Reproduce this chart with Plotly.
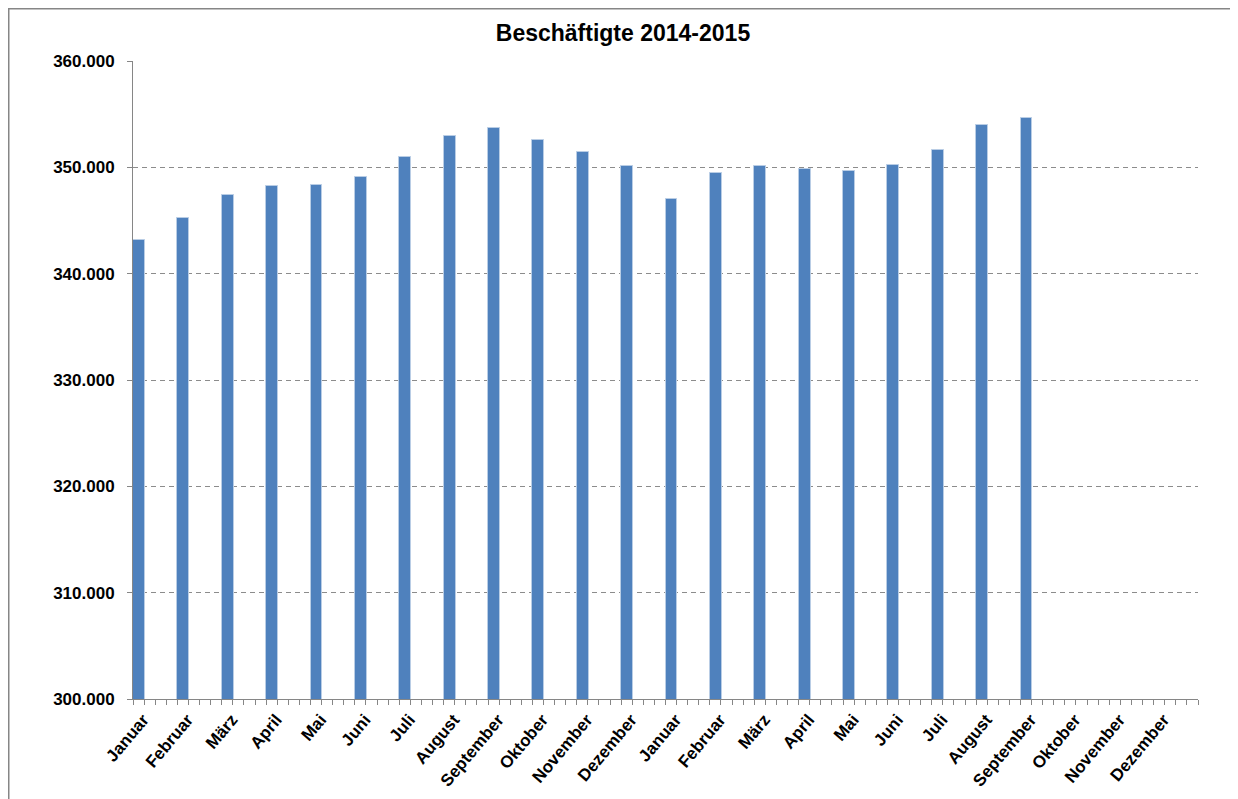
import plotly.graph_objects as go

months = ["Januar", "Februar", "März", "April", "Mai", "Juni", "Juli", "August",
          "September", "Oktober", "November", "Dezember"]
years = ["2014", "2015"]
categories = [f"{m} {y}" for y in years for m in months]
tick_labels = months + months
values_2014 = [343180, 345230, 347360, 348210, 348370, 349120, 350940, 352920,
               353680, 352610, 351480, 350160]
values_2015 = [346980, 349500, 350160, 349880, 349660, 350250, 351640, 354000,
               354660, None, None, None]
values = values_2014 + values_2015

title = "Beschäftigte 2014-2015"
y_ticks = [300000, 310000, 320000, 330000, 340000, 350000, 360000]

FONT = "Liberation Sans, Arial, sans-serif"

W, H = 1230, 791
L, R, T, B = 125, 40, 53, 100
PW, PH = W - L - R, H - T - B

fig = go.Figure()
fig.add_trace(go.Bar(
    x=categories, y=values,
    offset=-0.5, width=0.27,
    marker=dict(color="#4F81BD", line=dict(color="#B9CDE5", width=1)),
    showlegend=False, hoverinfo="x+y",
))
# empty trace to show the quarter-category tick marks on an overlay axis
fig.add_trace(go.Scatter(x=[], y=[], xaxis="x2", showlegend=False))

fig.update_layout(
    width=W, height=H,
    margin=dict(l=L, r=R, t=T, b=B),
    paper_bgcolor="white", plot_bgcolor="white",
    separators=",.",
    font=dict(family=FONT, color="black"),
    title=dict(text=f"<b>{title}</b>", x=0.5, xanchor="center",
               y=1 - 25 / H, yanchor="middle",
               font=dict(size=23, family=FONT, color="black")),
    bargap=0,
    xaxis=dict(
        type="category", categoryorder="array", categoryarray=categories,
        tickmode="array", tickvals=categories, ticktext=tick_labels,
        tickangle=-50, tickfont=dict(size=17, family=FONT, color="black", weight="bold"),
        ticklabelshift=-12, ticklabelstandoff=3,
        showline=True, linecolor="#868686", linewidth=1,
        ticks="", showgrid=False, zeroline=False,
        range=[-0.5, 23.5], automargin=False,
    ),
    xaxis2=dict(
        overlaying="x", anchor="y", side="bottom", type="linear",
        range=[-0.5, 23.5], tick0=-0.5, dtick=0.25,
        ticks="outside", ticklen=5, tickcolor="#868686", tickwidth=1,
        showticklabels=False, showgrid=False, zeroline=False, showline=False,
    ),
    yaxis=dict(
        range=[300000, 360000], tickvals=y_ticks, tickformat=",d",
        tickfont=dict(size=17, family=FONT, color="black", weight="bold"),
        showline=True, linecolor="#868686", linewidth=1,
        ticks="outside", ticklen=5, tickcolor="#868686",
        ticklabelstandoff=9,
        showgrid=True, gridcolor="#8C8C8C", gridwidth=1, griddash="5px,4px",
        zeroline=False,
    ),
    shapes=[dict(type="rect", xref="paper", yref="paper",
                 x0=-(L - 0.75) / PW, x1=(1225 - L) / PW,
                 y0=-(B + 30) / PH, y1=1 + (T - 0.75) / PH,
                 line=dict(color="#868686", width=1.5), fillcolor="rgba(0,0,0,0)",
                 layer="below")],
)

fig.write_html("out.html")
